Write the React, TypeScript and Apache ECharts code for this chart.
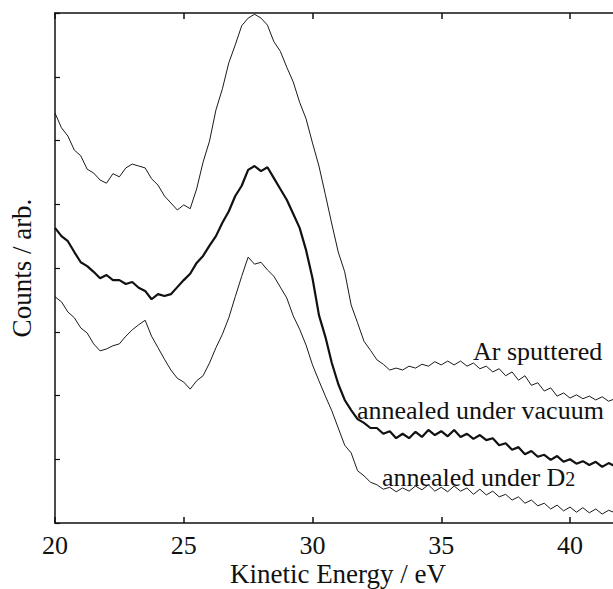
import React, { useEffect, useRef } from "react";
import * as echarts from "echarts";

const energies = [
  20.0, 20.25, 20.5, 20.75, 21.0, 21.25, 21.5, 21.75, 22.0, 22.25, 22.5, 22.75,
  23.0, 23.25, 23.5, 23.75, 24.0, 24.25, 24.5, 24.75, 25.0, 25.25, 25.5, 25.75,
  26.0, 26.25, 26.5, 26.75, 27.0, 27.25, 27.5, 27.75, 28.0, 28.25, 28.5, 28.75,
  29.0, 29.25, 29.5, 29.75, 30.0, 30.25, 30.5, 30.75, 31.0, 31.25, 31.5, 31.75,
  32.0, 32.25, 32.5, 32.75, 33.0, 33.25, 33.5, 33.75, 34.0, 34.25, 34.5, 34.75,
  35.0, 35.25, 35.5, 35.75, 36.0, 36.25, 36.5, 36.75, 37.0, 37.25, 37.5, 37.75,
  38.0, 38.25, 38.5, 38.75, 39.0, 39.25, 39.5, 39.75, 40.0, 40.25, 40.5, 40.75,
  41.0, 41.25, 41.5, 41.75,
];

const arSputtered = [
  6.43, 6.2, 6.07, 5.85, 5.76, 5.55, 5.49, 5.38, 5.33, 5.48, 5.43, 5.57,
  5.63, 5.6, 5.57, 5.4, 5.3, 5.13, 5.02, 4.91, 4.99, 4.93, 5.24, 5.66,
  5.99, 6.48, 6.81, 7.22, 7.5, 7.8, 7.92, 7.98, 7.92, 7.81, 7.55, 7.4,
  7.15, 6.92, 6.6, 6.34, 5.96, 5.6, 5.15, 4.69, 4.25, 3.94, 3.42, 3.14,
  2.85, 2.71, 2.56, 2.49, 2.4, 2.43, 2.4, 2.46, 2.43, 2.49, 2.46, 2.53,
  2.48, 2.54, 2.48, 2.54, 2.46, 2.51, 2.42, 2.46, 2.37, 2.42, 2.31, 2.37,
  2.24, 2.31, 2.16, 2.2, 2.07, 2.12, 1.99, 2.04, 1.96, 2.01, 1.95, 1.99,
  1.93, 1.98, 1.91, 1.95,
];

const annealedVacuum = [
  4.63, 4.5, 4.42, 4.25, 4.09, 4.03, 3.94, 3.84, 3.89, 3.81, 3.81, 3.75,
  3.78, 3.69, 3.64, 3.51, 3.59, 3.56, 3.59, 3.7, 3.81, 3.91, 4.08, 4.19,
  4.35, 4.5, 4.71, 4.89, 5.13, 5.29, 5.54, 5.6, 5.52, 5.58, 5.41, 5.24,
  5.07, 4.85, 4.63, 4.28, 3.84, 3.26, 2.92, 2.51, 2.18, 1.93, 1.77, 1.63,
  1.57, 1.49, 1.49, 1.4, 1.44, 1.33, 1.4, 1.33, 1.43, 1.35, 1.46, 1.38,
  1.44, 1.36, 1.46, 1.35, 1.4, 1.32, 1.38, 1.3, 1.33, 1.22, 1.25, 1.15,
  1.19, 1.08, 1.13, 1.04, 1.07, 0.99, 1.05, 0.96, 1.0, 0.93, 0.97, 0.91,
  0.96, 0.88, 0.94, 0.89,
];

const annealedD2 = [
  3.55, 3.47, 3.31, 3.22, 3.06, 2.98, 2.81, 2.7, 2.73, 2.78, 2.81, 2.93,
  3.03, 3.11, 3.18, 2.93, 2.75, 2.57, 2.4, 2.27, 2.21, 2.1, 2.23, 2.31,
  2.51, 2.75, 2.96, 3.22, 3.55, 3.87, 4.17, 4.06, 4.09, 3.97, 3.87, 3.7,
  3.53, 3.25, 3.04, 2.79, 2.48, 2.23, 1.99, 1.76, 1.49, 1.22, 1.1, 0.82,
  0.74, 0.64, 0.6, 0.53, 0.56, 0.49, 0.55, 0.5, 0.58, 0.52, 0.6, 0.5,
  0.56, 0.49, 0.58, 0.5, 0.55, 0.45, 0.53, 0.44, 0.5, 0.41, 0.45, 0.36,
  0.41, 0.31, 0.36, 0.27, 0.31, 0.22, 0.28, 0.19, 0.25, 0.17, 0.24, 0.16,
  0.22, 0.14, 0.2, 0.16,
];

const curveLabels = ["Ar sputtered", "annealed under vacuum", "annealed under D2"];

const FONT = "'Liberation Serif', 'Times New Roman', serif";

function pairs(ys: number[]) {
  return energies.map((e, i) => [e, ys[i]]);
}

export default function App() {
  const ref = useRef<HTMLDivElement>(null);
  useEffect(() => {
    if (!ref.current) return;
    const chart = echarts.init(ref.current, undefined, { renderer: "svg" });
    const axisLine = { show: true, lineStyle: { color: "#111", width: 1.5 } };
    chart.setOption({
      animation: false,
      backgroundColor: "#fff",
      grid: { left: 55, top: 13, bottom: 66, right: 7 },
      xAxis: [
        {
          type: "value",
          min: 20,
          max: 44,
          interval: 5,
          position: "bottom",
          axisLine,
          axisTick: { show: true, inside: true, length: 6, lineStyle: { color: "#111", width: 1.5 } },
          splitLine: { show: false },
          axisLabel: {
            fontFamily: FONT,
            fontSize: 26,
            color: "#111",
            margin: 9,
            formatter: (v: number) => (v % 5 === 0 ? String(v) : ""),
          },
        },
        {
          type: "value",
          min: 20,
          max: 44,
          interval: 5,
          position: "top",
          axisLine,
          axisTick: { show: true, inside: true, length: 6, lineStyle: { color: "#111", width: 1.5 } },
          splitLine: { show: false },
          axisLabel: { show: false },
        },
      ],
      yAxis: [
        {
          type: "value",
          min: 0,
          max: 8,
          interval: 1,
          axisLine,
          axisTick: { show: true, inside: true, length: 5, lineStyle: { color: "#111", width: 1.2 } },
          splitLine: { show: false },
          axisLabel: { show: false },
          name: "Counts / arb.",
          nameLocation: "middle",
          nameGap: 20,
          nameTextStyle: { fontFamily: FONT, fontSize: 27, color: "#111" },
        },
      ],
      series: [
        {
          name: curveLabels[0],
          type: "line",
          data: pairs(arSputtered),
          showSymbol: false,
          symbol: "none",
          lineStyle: { color: "#1a1a1a", width: 1 },
          z: 3,
        },
        {
          name: curveLabels[1],
          type: "line",
          data: pairs(annealedVacuum),
          showSymbol: false,
          symbol: "none",
          lineStyle: { color: "#111", width: 2.2 },
          z: 3,
        },
        {
          name: curveLabels[2],
          type: "line",
          data: pairs(annealedD2),
          showSymbol: false,
          symbol: "none",
          lineStyle: { color: "#1a1a1a", width: 1 },
          z: 3,
        },
      ],
      graphic: [
        {
          type: "text",
          left: undefined,
          x: 338,
          y: 574,
          style: {
            text: "Kinetic Energy / eV",
            fontFamily: FONT,
            fontSize: 27,
            fill: "#111",
            align: "center",
            verticalAlign: "middle",
          },
        },
        {
          type: "text",
          x: 473,
          y: 351,
          style: {
            text: curveLabels[0],
            fontFamily: FONT,
            fontSize: 26,
            fill: "#111",
            align: "left",
            verticalAlign: "middle",
          },
        },
        {
          type: "text",
          x: 357,
          y: 410,
          style: {
            text: curveLabels[1],
            fontFamily: FONT,
            fontSize: 26,
            fill: "#111",
            align: "left",
            verticalAlign: "middle",
          },
        },
        {
          type: "text",
          x: 382,
          y: 477,
          style: {
            text: "{a|annealed under D}{b|2}",
            fontFamily: FONT,
            fontSize: 26,
            fill: "#111",
            align: "left",
            verticalAlign: "middle",
            rich: {
              a: { fontFamily: FONT, fontSize: 26, fill: "#111" },
              b: { fontFamily: FONT, fontSize: 20, fill: "#111", padding: [4, 0, 0, 0] },
            },
          },
        },
      ],
    });
    return () => chart.dispose();
  }, []);
  return (
    <div
      style={{
        position: "absolute",
        left: 0,
        top: 0,
        width: 613,
        height: 589,
        overflow: "hidden",
        background: "#fff",
      }}
    >
      <div ref={ref} style={{ width: 680, height: 589 }} />
    </div>
  );
}
